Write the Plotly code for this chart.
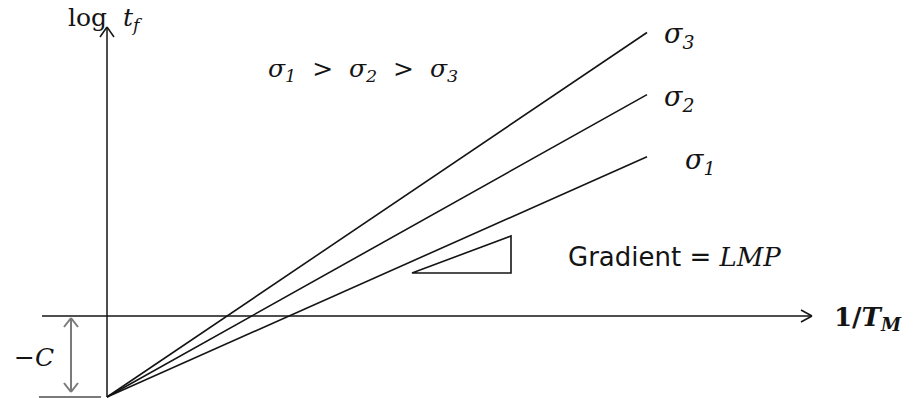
import plotly.graph_objects as go

# Larson-Miller construction: log t_f against 1/T_M for three stress levels
stress_labels = ["σ<sub>1</sub>", "σ<sub>2</sub>", "σ<sub>3</sub>"]
log_tf_end = [2.95, 4.1, 5.25]      # log t_f at the right-hand end of each line
inv_T_end = [10.0, 10.0, 10.0]      # 1/T_M at the right-hand end of each line
C = 1.5                              # common intercept: every line starts at log t_f = -C

W, H = 914, 398
OX, OY, S = 107, 316, 54.0           # pixel position of the origin and pixels per unit


def dx(p):
    return (p - OX) / S


def dy(p):
    return (OY - p) / S


INK = "#141414"
GREY = "#7a7a7a"
SERIF = "DejaVu Serif"

fig = go.Figure()

# the three stress lines, all radiating from (0, -C)
for lbl, xe, ye in zip(stress_labels, inv_T_end, log_tf_end):
    fig.add_trace(go.Scatter(
        x=[0, xe], y=[-C, ye], mode="lines", name=lbl,
        line=dict(color=INK, width=1.6), hoverinfo="skip", showlegend=False,
    ))


def seg(x0, y0, x1, y1, color=INK, width=1.5):
    fig.add_shape(type="line", xref="x", yref="y", x0=x0, y0=y0, x1=x1, y1=y1,
                  line=dict(color=color, width=width))


def chevron(tx, ty, ux, uy, color=INK, width=1.5, back=9, half=6):
    # open arrow head with its tip at (tx, ty) pointing along (ux, uy) in pixels
    px, py = -uy, ux
    for sgn in (1, -1):
        ex = tx - ux * back / S + sgn * px * half / S
        ey = ty - uy * back / S + sgn * py * half / S
        seg(tx, ty, ex, ey, color, width)


# axes
seg(0, -C, 0, dy(27))
chevron(0, dy(27), 0, 1, back=10, half=7)
seg(dx(42), 0, dx(812), 0)
chevron(dx(812), 0, 1, 0, back=11, half=6)

# intercept marker: lower tick and the double arrow spanning C
seg(dx(39), -C, dx(101), -C, GREY, 1.8)
seg(dx(71), dy(318), dx(71), dy(392), GREY, 2.0)
chevron(dx(71), dy(318), 0, 1, GREY, 2.0, back=9, half=7)
chevron(dx(71), dy(392), 0, -1, GREY, 2.0, back=9, half=7)

# slope triangle
fig.add_shape(type="path", xref="x", yref="y",
              path=f"M {dx(412)},{dy(273)} L {dx(511)},{dy(273)} L {dx(511)},{dy(236)} Z",
              line=dict(color=INK, width=1.6))

nb = "\u00a0"


def text(s, xp, yp, size=22, family=SERIF, anchor="left"):
    fig.add_annotation(x=dx(xp), y=dy(yp), xref="x", yref="y", text=s, showarrow=False,
                       xanchor=anchor, yanchor="middle",
                       font=dict(family=family, size=size, color=INK))


text("log" + nb * 2 + "<i>t<sub>f</sub></i>", 66, 19, size=25)
text(f"<i>σ<sub>1</sub>{nb*2}</i>>{nb*2}<i>σ<sub>2</sub>{nb*2}</i>>{nb*2}<i>σ<sub>3</sub></i>",
     266, 70, size=25)
label_px = [(683, 161), (662, 98), (662, 35)]
for lbl, (xp, yp) in zip(stress_labels, label_px):
    text(f"<i>{lbl}</i>", xp, yp, size=27)
text("Gradient = <span style='font-family:DejaVu Serif'><i>LMP</i></span>", 674, 257,
     size=26, family="DejaVu Sans", anchor="center")
text("<b>1/<i>T<sub>M</sub></i></b>", 832, 318, size=26)
text("−<i>C</i>", 12, 357, size=25)

fig.update_layout(
    width=W, height=H, margin=dict(l=0, r=0, t=0, b=0),
    paper_bgcolor="white", plot_bgcolor="white", showlegend=False,
    xaxis=dict(range=[dx(0), dx(W)], visible=False, fixedrange=True),
    yaxis=dict(range=[dy(H), dy(0)], visible=False, fixedrange=True),
)

fig.write_html("out.html")
